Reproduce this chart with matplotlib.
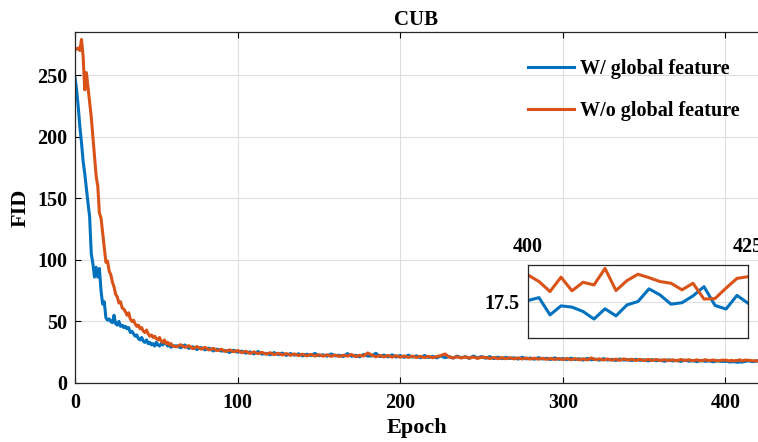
import numpy as np
import matplotlib
matplotlib.use("Agg")
import matplotlib.pyplot as plt

plt.rcParams["font.family"] = ["Liberation Serif", "DejaVu Serif"]
plt.rcParams["font.weight"] = "bold"

BLUE = "#0072BD"
ORANGE = "#D95319"

# epochs: every epoch early on, then sparser, then denser at the tail
epochs = np.concatenate([np.arange(0, 61), np.arange(62.5, 400, 2.5), np.arange(400, 425.01, 1.25)])

with_global_early = [248, 238, 224, 208, 195, 180, 170, 158, 146, 135,
                     105, 97, 86, 94, 86, 93, 75, 64, 66, 53,
                     51, 52, 50, 49, 55, 48, 47, 50, 46, 47,
                     45, 46, 44, 45, 41, 42, 40, 38, 39, 36,
                     35, 37, 34, 33, 35, 32, 33, 31, 32, 30,
                     33, 31, 30, 32, 31, 33, 32, 30, 31, 29, 30]
with_global_mid = [30.2, 28.6, 30.9, 28.1, 29.4, 27.2, 28.8, 26.9, 28.3, 26.0, 27.5, 25.9, 26.4, 24.8, 26.6, 25.0,
                   25.9, 24.2, 25.3, 23.6, 25.6, 23.4, 24.1, 22.9, 24.7, 23.0, 24.3, 22.4, 23.9, 22.6, 23.7, 22.0, 23.4, 22.3, 24.0, 22.1,
                   22.9, 21.8, 23.6, 22.0, 22.6, 21.5, 23.9, 21.7, 22.5, 21.3, 23.2, 21.9, 22.0, 24.1, 21.4, 22.7, 21.2, 22.9, 21.1, 22.3,
                   20.8, 22.6, 21.0, 22.1, 20.5, 22.3, 20.7, 21.6, 20.4, 22.0, 20.6, 21.4, 20.2, 21.8, 20.5, 21.3, 20.0, 21.9, 20.3, 21.5,
                   20.1, 21.4, 19.8, 21.0, 19.7, 20.8, 19.9, 20.5, 19.4, 20.9, 19.6, 20.3, 19.3, 20.6, 19.5, 20.1, 19.1, 20.4, 19.2, 19.9,
                   18.9, 20.2, 19.0, 19.7, 18.6, 20.0, 18.8, 19.4, 18.5, 19.8, 18.7, 19.2, 18.3, 19.5, 18.6, 19.0, 18.2, 19.3, 18.4, 18.8,
                   17.9, 19.0, 18.1, 18.6, 17.6, 18.8, 17.9, 18.4, 17.5, 18.6, 17.7, 18.2, 17.3, 18.4, 17.6, 18.0, 17.2, 18.1, 17.5]
with_global_tail = [17.54, 17.66, 16.95, 17.32, 17.27, 17.09, 16.78, 17.20, 16.91, 17.36, 17.50,
                    18.02, 17.77, 17.39, 17.45, 17.73, 18.11, 17.34, 17.19, 17.75, 17.43]

without_global_early = [272, 271, 272, 270, 279, 265, 238, 252, 240, 228,
                        216, 200, 185, 168, 160, 138, 134, 122, 110, 98,
                        99, 91, 88, 82, 78, 72, 70, 65, 66, 61,
                        60, 58, 55, 57, 52, 50, 51, 48, 46, 47,
                        44, 45, 42, 41, 43, 40, 38, 39, 37, 38,
                        36, 35, 37, 34, 33, 35, 32, 33, 31, 32, 30]
without_global_mid = [29.4, 31.1, 28.9, 30.3, 27.8, 29.6, 27.5, 28.9, 26.8, 28.2, 26.3, 27.4, 25.6, 26.9, 25.3, 26.4,
                      24.6, 25.8, 24.0, 25.3, 23.8, 24.9, 23.4, 24.6, 23.0, 24.2, 22.7, 23.9, 22.5, 23.6, 22.3, 23.4, 22.0, 23.2, 21.9, 23.0,
                      21.8, 22.9, 21.6, 22.7, 21.5, 22.6, 21.8, 23.2, 21.4, 22.5, 21.9, 24.4, 22.6, 21.3, 22.4, 21.2, 22.3, 21.0, 22.2, 20.9,
                      22.0, 20.8, 21.8, 20.7, 21.7, 20.6, 21.6, 20.5, 21.5, 22.3, 23.6, 21.2, 20.4, 21.3, 20.3, 21.2, 20.2, 21.1, 20.0, 20.9,
                      20.8, 19.9, 20.7, 19.8, 20.6, 19.7, 20.5, 19.6, 20.4, 19.5, 20.3, 19.4, 20.2, 19.3, 20.1, 19.2, 20.0, 19.1, 19.9, 19.0,
                      19.9, 18.9, 19.8, 18.8, 19.7, 18.7, 20.4, 18.9, 19.6, 18.6, 19.5, 18.5, 19.4, 18.4, 19.6, 18.6, 19.3, 18.3, 19.2, 18.2,
                      19.2, 18.3, 19.1, 18.2, 19.0, 18.1, 18.9, 18.0, 19.1, 18.2, 18.9, 18.0, 18.8, 17.9, 18.9, 18.1, 18.7, 17.9, 18.5]
without_global_tail = [18.59, 18.32, 17.91, 18.50, 17.94, 18.29, 18.18, 18.86, 17.95, 18.36, 18.62,
                       18.48, 18.32, 18.25, 17.98, 18.25, 17.60, 17.62, 18.05, 18.45, 18.52]

fid_with = np.array(with_global_early + with_global_mid + with_global_tail, dtype=float)
fid_without = np.array(without_global_early + without_global_mid + without_global_tail, dtype=float)

labels = ["W/ global feature", "W/o global feature"]


def style_axes(ax, size):
    ax.tick_params(direction="in", length=4, width=0.8, labelsize=size, top=True)
    for s in ax.spines.values():
        s.set_linewidth(0.9)
        s.set_color("#262626")
    ax.grid(True, color="#DEDEDE", linewidth=0.8)
    ax.set_axisbelow(True)
    for t in ax.get_xticklabels() + ax.get_yticklabels():
        t.set_fontweight("bold")


fig = plt.figure(figsize=(7.58, 4.42), dpi=100)
ax = fig.add_axes([75 / 758, 1 - 383 / 442, 1 - 75 / 758, (383 - 32) / 442])
ax.plot(epochs, fid_with, color=BLUE, linewidth=2.2, label=labels[0])
ax.plot(epochs, fid_without, color=ORANGE, linewidth=2.2, label=labels[1])
ax.set_xlim(0, 420)
ax.set_ylim(0, 285)
ax.set_xticks([0, 100, 200, 300, 400])
ax.set_yticks([0, 50, 100, 150, 200, 250])
ax.spines["right"].set_visible(False)
style_axes(ax, 14.5)
ax.tick_params(axis="x", pad=7)
ax.tick_params(axis="y", pad=5.5)
ax.set_xlabel("Epoch", fontsize=16, fontweight="bold", labelpad=4)
ax.set_ylabel("FID", fontsize=16, fontweight="bold", labelpad=5)
ax.set_title("CUB", fontsize=15, fontweight="bold", pad=5)
leg = ax.legend(loc="upper right", bbox_to_anchor=(1.0, 0.975), frameon=False,
                fontsize=14.5, labelspacing=1.1, handlelength=2.3, handletextpad=0.3)
for t in leg.get_texts():
    t.set_fontweight("bold")

# zoomed inset on the last epochs
ins = fig.add_axes([528 / 758, 1 - 338 / 442, 220 / 758, 73 / 442])
ins.set_facecolor("none")
ins.plot(epochs, fid_with, color=BLUE, linewidth=2.2)
ins.plot(epochs, fid_without, color=ORANGE, linewidth=2.2)
ins.set_xlim(400, 425)
ins.set_ylim(16, 19)
ins.set_xticks([400, 425])
ins.set_yticks([17.5])
ins.set_yticklabels(["17.5"])
ins.xaxis.tick_top()
style_axes(ins, 14.5)
ins.tick_params(length=0, pad=6)

fig.savefig("out.png", dpi=100)
